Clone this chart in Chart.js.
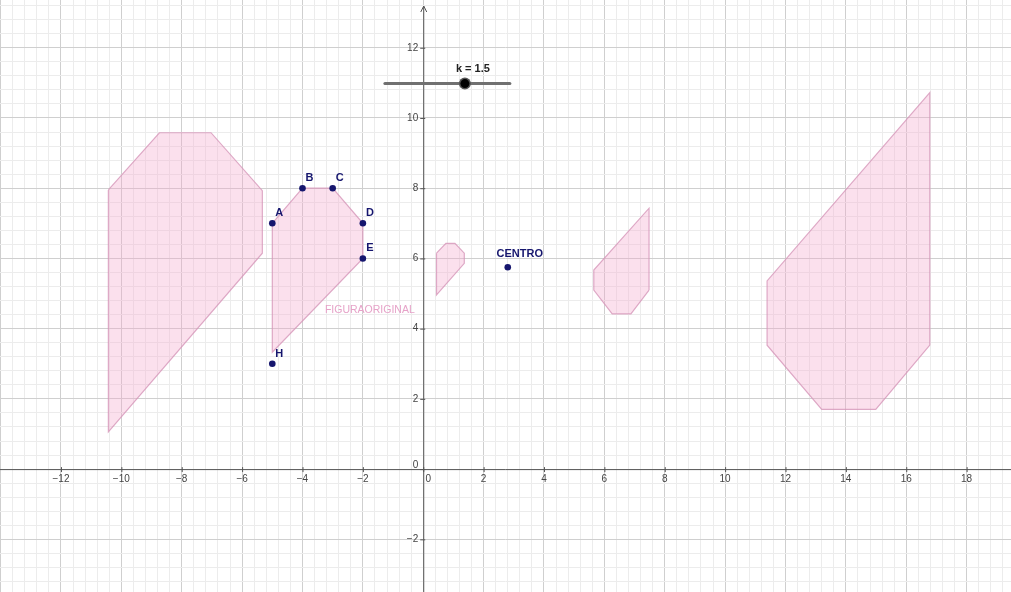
<!DOCTYPE html>
<html>
<head>
<meta charset="utf-8">
<script src="https://cdn.jsdelivr.net/npm/chart.js@4/dist/chart.umd.min.js"></script>
<style>
html,body{margin:0;padding:0;background:#fff;}
#wrap{width:1011px;height:592px;position:relative;}
</style>
</head>
<body>
<div id="wrap"><canvas id="c"></canvas></div>
<script>
// ---- data ----
const pointNames = ['A','B','C','D','E','H'];
const pointX = [-5, -4, -3, -2, -2, -5];
const pointY = [7, 8, 8, 7, 6, 3];
const origX = [-5, -4, -3, -2, -2, -5];
const origY = [7, 8, 8, 7, 6, 3.33];
const leftX = [-10.43, -8.74, -7.03, -5.33, -5.33, -10.43];
const leftY = [7.95, 9.58, 9.58, 7.93, 6.15, 1.06];
const rightX = [16.78, 14.99, 13.20, 11.39, 11.39, 16.78];
const rightY = [3.53, 1.70, 1.70, 3.53, 5.36, 10.72];
const smallX = [0.44, 0.75, 1.05, 1.36, 1.36, 0.44];
const smallY = [6.15, 6.43, 6.43, 6.15, 5.86, 4.96];
const midX = [7.48, 6.88, 6.26, 5.65, 5.65, 7.48];
const midY = [5.10, 4.42, 4.42, 5.10, 5.67, 7.43];
const centerX = [2.8];
const centerY = [5.75];
const xTickLabels = [-12,-10,-8,-6,-4,-2,0,2,4,6,8,10,12,14,16,18];
const yTickLabels = [-2,0,2,4,6,8,10,12];
const sliderRange = [-1.27, 2.87];
const sliderYVal = 10.98;
const sliderK = 1.38;
const sliderText = 'k = 1.5';
const xRange = [-14.02, 19.47];
const yRange = [-3.50, 13.36];

function pts(xs, ys, close) {
  const a = xs.map((x, i) => ({x: x, y: ys[i]}));
  if (close) a.push({x: xs[0], y: ys[0]});
  return a;
}
const polyFill = 'rgba(244, 170, 205, 0.36)';
const polyLine = 'rgba(214, 150, 185, 0.8)';
function polyDS(xs, ys) {
  return {
    data: pts(xs, ys, true), showLine: true, fill: 'shape', tension: 0,
    backgroundColor: polyFill, borderColor: polyLine, borderWidth: 1.2,
    pointRadius: 0, pointHoverRadius: 0, order: 5
  };
}
const navy = '#16166e';

function gridTicks(min, max, step) {
  const out = [];
  const start = Math.ceil(min / step) * step;
  for (let v = start; v <= max + 1e-9; v += step) out.push({value: Math.round(v * 1000) / 1000});
  return out;
}
function isMajor(v) { return Math.abs(v / 2 - Math.round(v / 2)) < 1e-6; }
function gridColor(ctx) {
  const v = ctx.tick ? ctx.tick.value : 0;
  return isMajor(v) ? '#cfcfcf' : '#ececec';
}

const overlay = {
  id: 'overlay',
  beforeDatasetsDraw(chart) {
    const {ctx, scales: {x, y}} = chart;
    const x0 = x.getPixelForValue(0), y0 = y.getPixelForValue(0);
    ctx.save();
    ctx.strokeStyle = '#555';
    ctx.lineWidth = 1;
    ctx.beginPath();
    ctx.moveTo(chart.chartArea.left, y0 + 0.5); ctx.lineTo(chart.chartArea.right, y0 + 0.5);
    ctx.moveTo(x0 + 0.5, chart.chartArea.top + 6); ctx.lineTo(x0 + 0.5, chart.chartArea.bottom);
    ctx.stroke();
    // arrow at top of y axis
    ctx.beginPath();
    ctx.moveTo(x0 - 3 + 0.5, chart.chartArea.top + 12);
    ctx.lineTo(x0 + 0.5, chart.chartArea.top + 6);
    ctx.lineTo(x0 + 3 + 0.5, chart.chartArea.top + 12);
    ctx.stroke();
    // tick marks
    ctx.beginPath();
    xTickLabels.forEach(v => { const px = x.getPixelForValue(v); ctx.moveTo(px + 0.5, y0 - 2); ctx.lineTo(px + 0.5, y0 + 3); });
    yTickLabels.forEach(v => { const py = y.getPixelForValue(v); ctx.moveTo(x0 - 3, py + 0.5); ctx.lineTo(x0 + 2, py + 0.5); });
    ctx.stroke();
    // tick labels
    ctx.fillStyle = '#444';
    ctx.font = '10px "Liberation Sans", Arial, sans-serif';
    ctx.textAlign = 'center'; ctx.textBaseline = 'middle';
    xTickLabels.forEach(v => {
      const px = x.getPixelForValue(v);
      ctx.fillText(String(v).replace('-', '\u2212'), v === 0 ? px + 5 : px, y0 + 10);
    });
    ctx.textAlign = 'right';
    yTickLabels.forEach(v => {
      const py = y.getPixelForValue(v);
      ctx.fillText(String(v).replace('-', '\u2212'), x0 - 5, v === 0 ? py - 4 : py);
    });
    // FIGURAORIGINAL label
    ctx.fillStyle = '#e6a2c8';
    ctx.font = '10.5px "Liberation Sans", Arial, sans-serif';
    ctx.textAlign = 'center';
    ctx.fillText('FIGURAORIGINAL', x.getPixelForValue(-1.77), y.getPixelForValue(4.52));
    ctx.restore();
  },
  afterDatasetsDraw(chart) {
    const {ctx, scales: {x, y}} = chart;
    ctx.save();
    ctx.fillStyle = navy;
    ctx.font = 'bold 11px "Liberation Sans", Arial, sans-serif';
    ctx.textAlign = 'center'; ctx.textBaseline = 'middle';
    pointNames.forEach((n, i) => {
      ctx.fillText(n, x.getPixelForValue(pointX[i]) + 7, y.getPixelForValue(pointY[i]) - 10);
    });
    ctx.fillText('CENTRO', x.getPixelForValue(centerX[0]) + 12, y.getPixelForValue(centerY[0]) - 13);
    // slider
    const sy = y.getPixelForValue(sliderYVal);
    ctx.strokeStyle = '#707070';
    ctx.lineWidth = 3;
    ctx.lineCap = 'round';
    ctx.beginPath();
    ctx.moveTo(x.getPixelForValue(sliderRange[0]), sy);
    ctx.lineTo(x.getPixelForValue(sliderRange[1]), sy);
    ctx.stroke();
    const kx = x.getPixelForValue(sliderK);
    ctx.beginPath(); ctx.arc(kx, sy, 6, 0, Math.PI * 2);
    ctx.fillStyle = '#555'; ctx.fill();
    ctx.beginPath(); ctx.arc(kx, sy, 4.5, 0, Math.PI * 2);
    ctx.fillStyle = '#000'; ctx.fill();
    ctx.fillStyle = '#222';
    ctx.font = 'bold 11px "Liberation Sans", Arial, sans-serif';
    ctx.fillText(sliderText, kx + 8, sy - 15);
    ctx.restore();
  }
};

new Chart(document.getElementById('c'), {
  type: 'scatter',
  data: {
    datasets: [
      polyDS(origX, origY),
      polyDS(leftX, leftY),
      polyDS(rightX, rightY),
      polyDS(smallX, smallY),
      polyDS(midX, midY),
      { data: pts(pointX, pointY, false), pointRadius: 3.3, pointBackgroundColor: navy, pointBorderColor: navy, pointBorderWidth: 0, showLine: false, order: 1 },
      { data: pts(centerX, centerY, false), pointRadius: 3.3, pointBackgroundColor: navy, pointBorderColor: navy, pointBorderWidth: 0, showLine: false, order: 1 }
    ]
  },
  options: {
    responsive: true, maintainAspectRatio: false, animation: false,
    layout: { padding: 0, autoPadding: false },
    plugins: { legend: { display: false }, tooltip: { enabled: false } },
    events: [],
    scales: {
      x: {
        type: 'linear', min: xRange[0], max: xRange[1],
        afterBuildTicks: s => { s.ticks = gridTicks(xRange[0], xRange[1], 0.4); },
        ticks: { display: false },
        grid: { drawTicks: false, color: gridColor, lineWidth: 1 },
        border: { display: false }
      },
      y: {
        type: 'linear', min: yRange[0], max: yRange[1],
        afterBuildTicks: s => { s.ticks = gridTicks(yRange[0], yRange[1], 0.4); },
        ticks: { display: false },
        grid: { drawTicks: false, color: gridColor, lineWidth: 1 },
        border: { display: false }
      }
    }
  },
  plugins: [overlay]
});
</script>
</body>
</html>
